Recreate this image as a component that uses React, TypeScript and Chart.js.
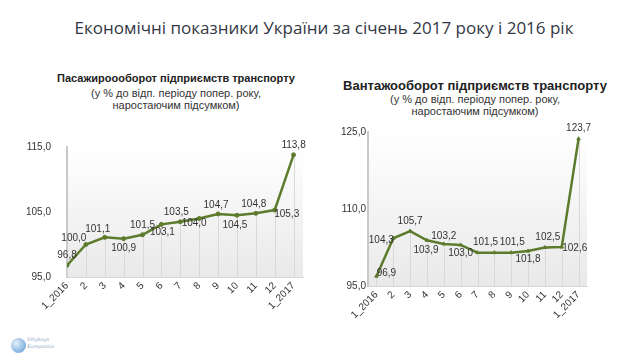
import React, { useEffect, useRef } from "react";
import { Chart, registerables } from "chart.js";

Chart.register(...registerables);

const categories = ["1_2016", "2", "3", "4", "5", "6", "7", "8", "9", "10", "11", "12", "1_2017"];
const passengerValues = [96.8, 100.0, 101.1, 100.9, 101.5, 103.1, 103.5, 104.0, 104.7, 104.5, 104.8, 105.3, 113.8];
const freightValues = [96.9, 104.3, 105.7, 103.9, 103.2, 103.0, 101.5, 101.5, 101.5, 101.8, 102.5, 102.6, 123.7];
const passengerTicks = [95, 105, 115];
const freightTicks = [95, 110, 125];

const mainTitle = "Економічні показники України за січень 2017 року і 2016 рік";
const leftTitle = "Пасажироооборот підприємств транспорту";
const rightTitle = "Вантажооборот підприємств транспорту";
const subLine1 = "(у % до відп. періоду попер. року,";
const subLine2 = "наростаючим підсумком)";

const GREEN = "#5d7b2c";

// label placement: [dx, dy] offsets for value labels, null = hidden
const leftLabelOffsets: ([number, number] | null)[] = [
  [0, -10], [-12, -6], [-7, -8], [0, 10], [0, -10], [1, 8], [-4, -10], [-5, 5], [-2, -9], [-2, 10], [-2, -9], [12, 4], [0, -10],
];
const rightLabelOffsets: ([number, number] | null)[] = [
  [10, -3], [-12, 2], [0, -10], [-1, 10], [0, -8], [0, 8], [8, -10], null, [1, -10], [0, 8], [3, -10], [13, 1], [0, -10],
];

function fmt(v: number) {
  return v.toFixed(1).replace(".", ",");
}

function makeChart(
  canvas: HTMLCanvasElement,
  values: number[],
  ticks: number[],
  xMin: number,
  pointStyle: string,
  offsets: ([number, number] | null)[],
  yAxisWidth: number,
  xAxisHeight: number,
  padding: { top: number; right: number },
  yTickPad: number
) {
  const bgPlugin = {
    id: "bg",
    beforeDraw(chart: any) {
      const { ctx, chartArea } = chart;
      const g = ctx.createLinearGradient(0, chartArea.top, 0, chartArea.bottom);
      g.addColorStop(0, "#ffffff");
      g.addColorStop(1, "#e9e9e9");
      ctx.save();
      ctx.fillStyle = g;
      ctx.fillRect(chartArea.left, chartArea.top, chartArea.right - chartArea.left, chartArea.bottom - chartArea.top);
      ctx.restore();
    },
    beforeDatasetsDraw(chart: any) {
      const { ctx, chartArea } = chart;
      const meta = chart.getDatasetMeta(0);
      ctx.save();
      ctx.strokeStyle = "#d9d9d9";
      ctx.lineWidth = 1;
      meta.data.forEach((p: any) => {
        ctx.beginPath();
        ctx.moveTo(Math.round(p.x) + 0.5, p.y);
        ctx.lineTo(Math.round(p.x) + 0.5, chartArea.bottom);
        ctx.stroke();
      });
      ctx.restore();
    },
    afterDatasetsDraw(chart: any) {
      const { ctx } = chart;
      const meta = chart.getDatasetMeta(0);
      ctx.save();
      ctx.font = "10px Arial, 'Liberation Sans', sans-serif";
      ctx.fillStyle = "#333333";
      ctx.textAlign = "center";
      ctx.textBaseline = "middle";
      meta.data.forEach((p: any, i: number) => {
        const off = offsets[i];
        if (!off) return;
        ctx.fillText(fmt(values[i]), p.x + off[0], p.y + off[1]);
      });
      ctx.restore();
    },
  };

  return new Chart(canvas, {
    type: "line",
    data: {
      datasets: [
        {
          data: values.map((v, i) => ({ x: i, y: v })),
          borderColor: GREEN,
          backgroundColor: GREEN,
          borderWidth: 2.5,
          pointStyle: pointStyle as any,
          pointRadius: 2,
          pointBorderWidth: 1,
          tension: 0,
        },
      ],
    },
    options: {
      animation: false,
      responsive: false,
      maintainAspectRatio: false,
      layout: { padding: { top: padding.top, right: padding.right, left: 0, bottom: 0 } },
      plugins: { legend: { display: false }, tooltip: { enabled: false }, title: { display: false } },
      scales: {
        x: {
          type: "linear",
          min: xMin,
          max: 12.5,
          afterBuildTicks(scale: any) {
            scale.ticks = categories.map((_, i) => ({ value: i }));
          },
          afterFit(scale: any) {
            scale.height = xAxisHeight;
          },
          grid: { display: false, drawTicks: false },
          border: { display: true, color: "#d6d6d6", width: 1 },
          ticks: {
            autoSkip: false,
            minRotation: 45,
            maxRotation: 45,
            padding: 3,
            color: "#333333",
            font: { family: "Arial, 'Liberation Sans', sans-serif", size: 10 },
            callback: (v: any) => categories[v as number] ?? "",
          },
        },
        y: {
          min: ticks[0],
          max: ticks[ticks.length - 1],
          afterBuildTicks(scale: any) {
            scale.ticks = ticks.map((t) => ({ value: t }));
          },
          afterFit(scale: any) {
            scale.width = yAxisWidth;
          },
          grid: { display: false, drawTicks: false },
          border: { display: true, color: "#c9c9c9", width: 2 },
          ticks: {
            padding: yTickPad,
            color: "#333333",
            font: { family: "Arial, 'Liberation Sans', sans-serif", size: 10 },
            callback: (v: any) => fmt(Number(v)),
          },
        },
      },
    },
    plugins: [bgPlugin],
  } as any);
}

export default function App() {
  const leftRef = useRef<HTMLCanvasElement>(null);
  const rightRef = useRef<HTMLCanvasElement>(null);

  useEffect(() => {
    document.body.style.margin = "0";
    const c1 = makeChart(leftRef.current!, passengerValues, passengerTicks, 0, "circle", leftLabelOffsets, 47, 48, { top: 15, right: 17 }, 16);
    const c2 = makeChart(rightRef.current!, freightValues, freightTicks, -0.5, "triangle", rightLabelOffsets, 48, 39, { top: 17, right: 33 }, 2);
    return () => {
      c1.destroy();
      c2.destroy();
    };
  }, []);

  const sub: React.CSSProperties = {
    position: "absolute",
    textAlign: "center",
    fontFamily: "Arial, 'Liberation Sans', sans-serif",
    color: "#222",
    whiteSpace: "nowrap",
  };

  return (
    <div style={{ position: "relative", width: 620, height: 364, background: "#fff", overflow: "hidden" }}>
      <div
        style={{
          position: "absolute",
          left: 14,
          top: 16,
          width: 620,
          textAlign: "center",
          fontFamily: "'Open Sans', 'Noto Sans', sans-serif",
          fontSize: 17,
          color: "#333845",
          whiteSpace: "nowrap",
        }}
      >
        {mainTitle}
      </div>

      <div style={{ ...sub, left: 26, width: 300, top: 72, fontSize: 11, lineHeight: "12px" }}>
        <div style={{ fontWeight: "bold", marginBottom: 3 }}>{leftTitle}</div>
        <div style={{ color: "#333" }}>{subLine1}</div>
        <div style={{ color: "#333" }}>{subLine2}</div>
      </div>

      <div style={{ ...sub, left: 325, width: 300, top: 78, fontSize: 11, lineHeight: "12px" }}>
        <div style={{ fontWeight: "bold", fontSize: 13, lineHeight: "15px", marginBottom: 0 }}>{rightTitle}</div>
        <div style={{ color: "#333" }}>{subLine1}</div>
        <div style={{ color: "#333" }}>{subLine2}</div>
      </div>

      <canvas ref={leftRef} width={300} height={200} style={{ position: "absolute", left: 20, top: 125 }} />
      <canvas ref={rightRef} width={300} height={210} style={{ position: "absolute", left: 320, top: 115 }} />

      <div
        style={{
          position: "absolute",
          left: 11,
          top: 338,
          width: 15,
          height: 15,
          borderRadius: "50%",
          background: "radial-gradient(circle at 35% 35%, #e4f0fb, #7fb0e0 70%, #a9cbec)",
        }}
      />
      <div
        style={{
          position: "absolute",
          left: 27,
          top: 336,
          fontFamily: "'DejaVu Serif', serif",
          fontStyle: "italic",
          fontSize: 5,
          lineHeight: "7px",
          color: "#8fa9c8",
        }}
      >
        <div>Velykaya</div>
        <div>Kompaniia</div>
      </div>
    </div>
  );
}
